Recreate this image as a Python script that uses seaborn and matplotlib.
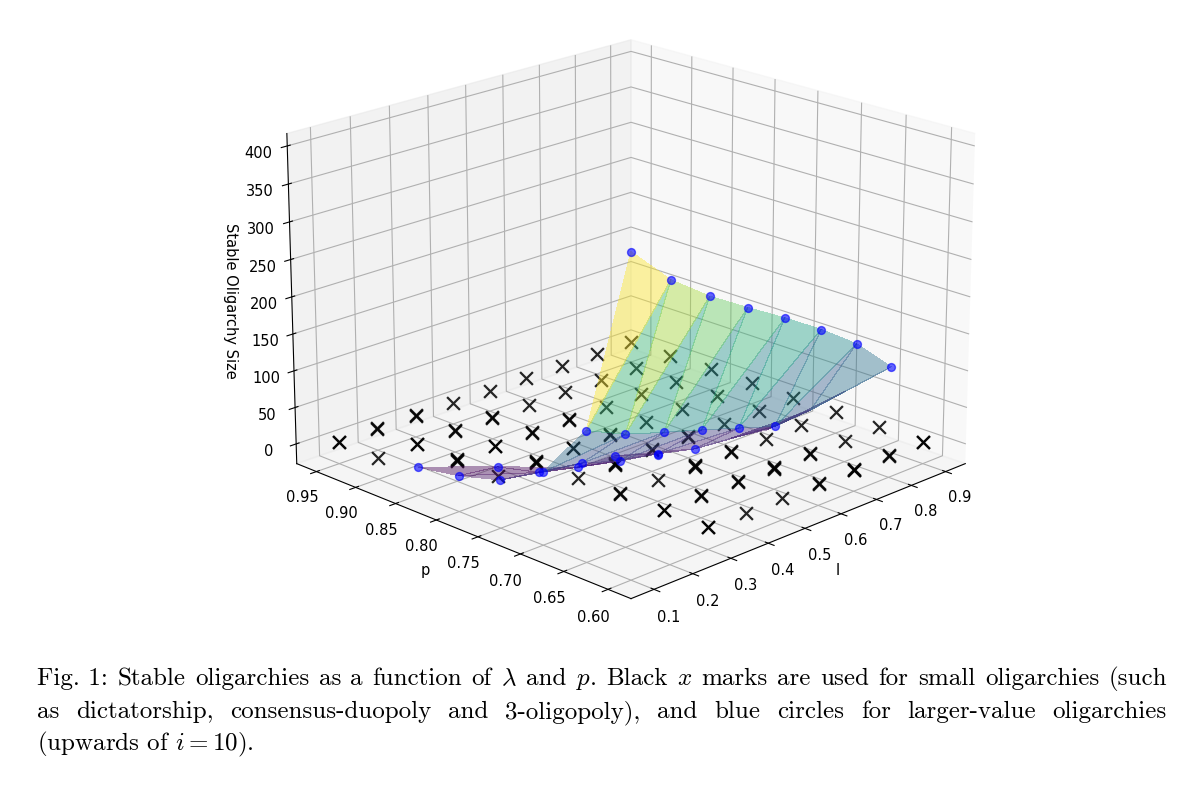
import numpy as np
import matplotlib
matplotlib.use("Agg")
import matplotlib.pyplot as plt
import seaborn as sns

# ---------------- data ----------------
l_vals = [0.1, 0.2, 0.3, 0.4, 0.5, 0.6, 0.7, 0.8, 0.9]
p_vals = [0.60, 0.65, 0.70, 0.75, 0.80, 0.85, 0.90, 0.95]

N = np.nan
# surface of large stable oligarchies: rows = l, columns = p
surface_size = [
    [388, 144, 69, 37, 21, 11, N, N],
    [337, 121, 62, 28, 14, N, N, N],
    [300, 105, 46, 16, N, N, N, N],
    [269, 90, 37, 13, N, N, N, N],
    [239, 74, 25, N, N, N, N, N],
    [207, 58, 21, N, N, N, N, N],
    [171, 62, 14, N, N, N, N, N],
    [123, 70, 18, N, N, N, N, N],
    [N, N, N, N, N, N, N, N],
]

# blue circles: large oligarchies (i >= 10)
circle_l = [0.1, 0.2, 0.3, 0.4, 0.5, 0.6, 0.7, 0.8,
            0.1, 0.2, 0.3, 0.4, 0.5, 0.6,
            0.1, 0.2, 0.3, 0.4, 0.4, 0.5,
            0.1, 0.2, 0.3, 0.4,
            0.1, 0.2,
            0.1]
circle_p = [0.60, 0.60, 0.60, 0.60, 0.60, 0.60, 0.60, 0.60,
            0.65, 0.65, 0.65, 0.65, 0.65, 0.65,
            0.70, 0.70, 0.70, 0.70, 0.70, 0.70,
            0.75, 0.75, 0.75, 0.75,
            0.80, 0.80,
            0.85]
circle_size = [388, 337, 300, 269, 239, 207, 171, 123,
               144, 121, 105, 90, 74, 58,
               69, 62, 46, 37, 35, 25,
               37, 28, 16, 13,
               21, 14,
               11]

# black x marks: small stable oligarchies (sizes 1, 2, 3) per grid point
# rows = l, columns = p ; each string lists the stable sizes
small_sizes = [
    ["", "", "", "", "", "", "2", "23"],
    ["", "", "", "", "2", "123", "23", "23"],
    ["23", "23", "23", "2", "123", "23", "23", "23"],
    ["2", "23", "2", "123", "23", "23", "23", "2"],
    ["2", "23", "123", "23", "23", "23", "2", "2"],
    ["23", "123", "23", "23", "2", "2", "2", "2"],
    ["123", "23", "2", "2", "2", "2", "2", "2"],
    ["23", "2", "2", "2", "2", "2", "2", "2"],
    ["23", "2", "2", "2", "2", "2", "2", "2"],
]

p_ticks = [0.60, 0.65, 0.70, 0.75, 0.80, 0.85, 0.90, 0.95]
l_ticks = [0.1, 0.2, 0.3, 0.4, 0.5, 0.6, 0.7, 0.8, 0.9]
z_ticks = [0, 50, 100, 150, 200, 250, 300, 350, 400]

caption_lines = [
    r"Fig. 1: | Stable | oligarchies | as | a | function | of | $\lambda$ | and | $p$. | Black | $x$ | marks | are | used | for | small | oligarchies | (such",
    "as | dictatorship, | consensus-duopoly | and | 3-oligopoly), | and | blue | circles | for | larger-value | oligarchies",
    r"(upwards of $i = 10$).",
]

# ---------------- build plotting structures ----------------
plt.rcParams['axes3d.automargin'] = True
plt.rcParams['mathtext.fontset'] = 'cm'

Z = np.array(surface_size, dtype=float)
nl, npp = Z.shape
idx = -np.ones_like(Z, dtype=int)
sx, sy, sz = [], [], []
for a in range(nl):
    for b in range(npp):
        if np.isfinite(Z[a, b]):
            idx[a, b] = len(sx)
            sx.append(l_vals[a]); sy.append(p_vals[b]); sz.append(Z[a, b])
sz_arr = np.array(sz)
tris = []
for a in range(nl - 1):
    for b in range(npp - 1):
        c = [idx[a, b], idx[a + 1, b], idx[a + 1, b + 1], idx[a, b + 1]]
        ok = [v >= 0 for v in c]
        if all(ok):
            tris.append([c[0], c[1], c[3]])
            tris.append([c[1], c[2], c[3]])
        elif sum(ok) == 3:
            tris.append([v for v in c if v >= 0])
tri_val = [sz_arr[t].mean() for t in tris]

xl, xp, xz = [], [], []
for a in range(nl):
    for b in range(npp):
        for ch in small_sizes[a][b]:
            xl.append(l_vals[a]); xp.append(p_vals[b]); xz.append(int(ch))

cmap = sns.color_palette("viridis", as_cmap=True)

fig = plt.figure(figsize=(12, 7.9), dpi=100)
side = 741
cx, cy = 621, 311
ax = fig.add_axes([(cx - side / 2) / 1200, (790 - cy - side / 2) / 790,
                   side / 1200, side / 790], projection='3d')
ax.set_box_aspect((4, 4, 2.92))
ax.computed_zorder = False

ax.scatter(xl, xp, xz, marker='x', color='black', s=85, linewidths=1.6,
           alpha=0.85, depthshade=False, zorder=1)
surf = ax.plot_trisurf(sx, sy, sz, triangles=tris, cmap=cmap, alpha=0.42,
                       linewidth=0, edgecolor='none', antialiased=False,
                       zorder=2)
surf.set_array(np.array(tri_val))
surf.set_clim(min(tri_val), max(tri_val))
ax.scatter(circle_l, circle_p, circle_size, marker='o', color='blue',
           s=32, alpha=0.6, depthshade=False, zorder=3)

ax.set_xlim(0.06, 0.94)
ax.set_ylim(0.5825, 0.9675)
ax.set_zlim(-18.35, 407.35)
ax.set_xticks(l_ticks)
ax.set_yticks(p_ticks)
ax.set_zticks(z_ticks)
ax.set_xticklabels([f"{v:.1f}" for v in l_ticks], fontsize=10.5)
ax.set_yticklabels([f"{v:.2f}" for v in p_ticks], fontsize=10.5)
ax.set_zticklabels([f"{v}" for v in z_ticks], fontsize=10.5)
ax.set_xlabel('l', fontsize=10.5)
ax.set_ylabel('p', fontsize=10.5)
ax.zaxis.set_rotate_label(False)
ax.set_zlabel('Stable Oligarchy Size', fontsize=10.5, rotation=270)
ax.view_init(elev=19.5, azim=-135)

# ---------------- caption (justified like the reference) ----------------
cap = dict(family='cmr10', fontsize=18, va='baseline', ha='left')
renderer = fig.canvas.get_renderer()
baselines = [685, 718, 750]
x0, x1 = 37, 1167
for k, line in enumerate(caption_lines):
    yf = 1 - baselines[k] / 790
    if k < 2:
        words = line.split(" | ")
        texts = [fig.text(0, yf, w, **cap) for w in words]
        widths = [t.get_window_extent(renderer).width for t in texts]
        gap = (x1 - x0 - sum(widths)) / (len(words) - 1)
        xpos = x0
        for t, w in zip(texts, widths):
            t.set_x(xpos / 1200)
            xpos += w + gap
    else:
        fig.text(x0 / 1200, yf, line, **cap)

fig.savefig("out.png", dpi=100)
